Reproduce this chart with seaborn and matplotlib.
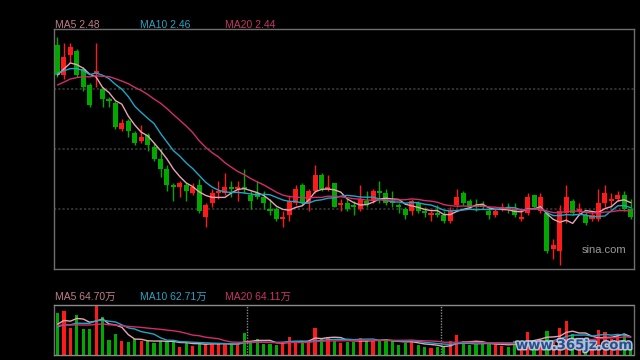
import numpy as np
import pandas as pd
import matplotlib
matplotlib.use("Agg")
import matplotlib.pyplot as plt
import matplotlib.patheffects as pe
import seaborn as sns

# ---- daily k-line data (90 sessions), prices in yuan ----
opens = [3.27, 3.12, 3.22, 3.24, 3.15, 3.07, 3.13, 3.05, 3.00, 2.98,
         2.85, 2.89, 2.83, 2.79, 2.82, 2.76, 2.70, 2.65, 2.57, 2.56,
         2.57, 2.53, 2.57, 2.41, 2.48, 2.53, 2.53, 2.56, 2.55, 2.56,
         2.52, 2.53, 2.51, 2.45, 2.45, 2.40, 2.42, 2.48, 2.57, 2.48,
         2.54, 2.62, 2.55, 2.58, 2.47, 2.48, 2.47, 2.45, 2.49, 2.49,
         2.54, 2.53, 2.49, 2.47, 2.45, 2.44, 2.48, 2.44, 2.42, 2.43,
         2.42, 2.39, 2.47, 2.53, 2.49, 2.47, 2.47, 2.44, 2.42, 2.45,
         2.46, 2.45, 2.40, 2.43, 2.52, 2.44, 2.43, 2.25, 2.24, 2.43,
         2.49, 2.44, 2.42, 2.40, 2.40, 2.48, 2.49, 2.50, 2.52, 2.45]
closes = [3.12, 3.21, 3.26, 3.12, 3.06, 2.97, 3.14, 3.00, 2.99, 2.86,
          2.88, 2.84, 2.78, 2.81, 2.77, 2.70, 2.65, 2.57, 2.56, 2.58,
          2.54, 2.56, 2.44, 2.47, 2.53, 2.54, 2.56, 2.55, 2.56, 2.55,
          2.49, 2.51, 2.48, 2.44, 2.40, 2.41, 2.49, 2.55, 2.48, 2.54,
          2.62, 2.55, 2.56, 2.46, 2.48, 2.45, 2.46, 2.50, 2.47, 2.54,
          2.53, 2.48, 2.48, 2.46, 2.42, 2.49, 2.44, 2.43, 2.43, 2.42,
          2.39, 2.44, 2.51, 2.48, 2.46, 2.46, 2.46, 2.42, 2.44, 2.46,
          2.45, 2.42, 2.41, 2.51, 2.46, 2.51, 2.24, 2.27, 2.44, 2.51,
          2.43, 2.45, 2.38, 2.42, 2.48, 2.53, 2.50, 2.52, 2.45, 2.41]
highs = [3.31, 3.28, 3.28, 3.25, 3.16, 3.08, 3.28, 3.06, 3.01, 2.99,
         2.90, 2.90, 2.84, 2.87, 2.83, 2.78, 2.75, 2.67, 2.58, 2.59,
         2.58, 2.58, 2.60, 2.48, 2.55, 2.59, 2.63, 2.59, 2.59, 2.65,
         2.54, 2.59, 2.54, 2.50, 2.46, 2.44, 2.52, 2.57, 2.58, 2.55,
         2.67, 2.63, 2.62, 2.58, 2.50, 2.50, 2.49, 2.57, 2.54, 2.55,
         2.59, 2.55, 2.54, 2.48, 2.46, 2.50, 2.49, 2.46, 2.44, 2.47,
         2.44, 2.46, 2.55, 2.54, 2.50, 2.50, 2.49, 2.46, 2.45, 2.48,
         2.48, 2.48, 2.45, 2.53, 2.52, 2.53, 2.44, 2.30, 2.47, 2.57,
         2.50, 2.48, 2.44, 2.44, 2.55, 2.57, 2.53, 2.54, 2.54, 2.50]
lows = [3.11, 3.10, 3.18, 3.11, 3.04, 2.96, 3.06, 2.96, 2.96, 2.85,
        2.84, 2.81, 2.77, 2.78, 2.74, 2.69, 2.61, 2.54, 2.49, 2.51,
        2.49, 2.52, 2.43, 2.36, 2.46, 2.50, 2.52, 2.51, 2.49, 2.53,
        2.45, 2.50, 2.45, 2.42, 2.39, 2.36, 2.39, 2.47, 2.47, 2.44,
        2.53, 2.54, 2.54, 2.46, 2.44, 2.44, 2.42, 2.44, 2.46, 2.48,
        2.48, 2.47, 2.46, 2.43, 2.40, 2.42, 2.43, 2.41, 2.39, 2.41,
        2.38, 2.38, 2.46, 2.47, 2.45, 2.44, 2.45, 2.40, 2.41, 2.44,
        2.43, 2.41, 2.39, 2.42, 2.45, 2.43, 2.23, 2.20, 2.17, 2.38,
        2.42, 2.42, 2.37, 2.39, 2.39, 2.46, 2.46, 2.49, 2.44, 2.40]
# volume, 万手
volumes = [152, 159, 97, 144, 93, 93, 180, 136, 53, 76,
           49, 47, 55, 50, 49, 43, 49, 49, 49, 28,
           41, 32, 47, 38, 37, 38, 38, 38, 37, 79,
           47, 55, 38, 38, 35, 43, 65, 47, 43, 47,
           97, 55, 65, 50, 41, 47, 47, 61, 49, 50,
           50, 55, 49, 35, 41, 53, 35, 28, 25, 28,
           28, 49, 71, 49, 35, 37, 41, 41, 35, 32,
           28, 49, 41, 83, 53, 53, 85, 45, 97, 122,
           75, 52, 45, 40, 90, 83, 55, 71, 75, 40]

# sessions before the window, only to warm up the moving averages
prev_closes = [2.92, 2.95, 2.98, 2.96, 3.00, 3.03, 3.05, 3.02, 3.07, 3.12,
               3.10, 3.15, 3.12, 3.16, 3.17, 3.06, 3.11, 3.16, 3.15]
prev_volumes = [95, 120, 130, 105, 90, 140, 100, 110, 95, 115,
                80, 95, 85, 100, 90, 90, 110, 95, 103]

month_starts = [30, 60]          # first session of a new month
grid_levels = [2.45, 2.75, 3.05]
price_labels = ["MA5 2.48", "MA10 2.46", "MA20 2.44"]
vol_labels = ["MA5 64.70万", "MA10 62.71万", "MA20 64.11万"]
ma_windows = [5, 10, 20]

RED = "#ff1a1a"
GREEN = "#00a800"
ma_line_colors = ["#eaa3b6", "#1ea6c8", "#d22d6b"]
ma_text_colors = ["#c27b8e", "#2aa2c2", "#c8336a"]
BORDER = "#6e6e6e"

sns.set_style("dark", {"axes.facecolor": "black", "figure.facecolor": "black"})
plt.rcParams["font.family"] = ["Liberation Sans", "Noto Sans CJK SC", "DejaVu Sans"]

n = len(closes)
x = np.arange(n)
o = np.array(opens)
c = np.array(closes)
colors = np.where(c >= o, RED, GREEN)

all_close = pd.Series(prev_closes + closes)
all_vol = pd.Series(prev_volumes + volumes, dtype=float)
k = len(prev_closes)
price_ma = [all_close.rolling(w).mean().values[k:] for w in ma_windows]
vol_ma = [all_vol.rolling(w).mean().values[k:] for w in ma_windows]

fig = plt.figure(figsize=(6.4, 3.6), dpi=100, facecolor="black")
ax = fig.add_axes([54 / 640, 1 - 269 / 360, 580 / 640, 240 / 360])
axv = fig.add_axes([54 / 640, 1 - 354.5 / 360, 580 / 640, 49.5 / 360])

# ---- price panel ----
ax.vlines(x, lows, highs, colors=colors, linewidth=1.0, zorder=2)
ax.bar(x, np.maximum(np.abs(c - o), 0.002), bottom=np.minimum(o, c),
       width=0.78, color=colors, linewidth=0, zorder=3)
for ma, col in zip(price_ma, ma_line_colors):
    sns.lineplot(x=x, y=ma, ax=ax, color=col, linewidth=1.0, zorder=4)

ax.set_xlim(-0.54, 89.52)
ax.set_ylim(2.15, 3.35)
ax.set_yticks(grid_levels)
ax.set_xticks([])
ax.yaxis.grid(True, color="#3f3f3f", linestyle=(0, (1.4, 1.4)), linewidth=1.1)
ax.xaxis.grid(False)
ax.tick_params(length=0, labelleft=False, labelbottom=False)
ax.set_xlabel("")
ax.set_ylabel("")
for s in ax.spines.values():
    s.set_visible(True)
    s.set_color(BORDER)
    s.set_linewidth(1.0)

# ---- volume panel ----
axv.bar(x, volumes, width=0.5, color=colors, linewidth=0, zorder=2)
for ma, col in zip(vol_ma, ma_line_colors):
    sns.lineplot(x=x, y=ma, ax=axv, color=col, linewidth=1.0, zorder=4)
for m in month_starts:
    axv.axvline(m - 0.5, color="#8a8a8a", linestyle=(0, (1, 1)), linewidth=1.0, zorder=1)
axv.set_xlim(-0.54, 89.52)
axv.set_ylim(0, max(volumes))
axv.set_xticks([])
axv.set_yticks([])
axv.grid(False)
axv.set_xlabel("")
axv.set_ylabel("")
axv.tick_params(length=0, labelleft=False, labelbottom=False)
for name, s in axv.spines.items():
    s.set_visible(True)
    s.set_color("#8a8a8a" if name in ("top", "bottom") else BORDER)
    s.set_linewidth(1.0)
    if name in ("top", "bottom"):
        s.set_linestyle((0, (1, 1)))

# ---- MA captions ----
label_x = [55, 140, 225]
for lx, txt, col in zip(label_x, price_labels, ma_text_colors):
    fig.text(lx / 640, 1 - 28 / 360, txt, color=col, fontsize=7.5, va="baseline")
for lx, txt, col in zip(label_x, vol_labels, ma_text_colors):
    fig.text(lx / 640, 1 - 299.5 / 360, txt, color=col, fontsize=7.5, va="baseline")

fig.text(582 / 640, 1 - 253 / 360, "sina.com", color="#9a9a9a", fontsize=8, va="baseline")
fig.text(516 / 640, 1 - 349 / 360, "www.365jz.com", color="#1d4486", fontsize=9.5,
         fontweight="bold", family="DejaVu Sans", va="baseline", alpha=0.92,
         path_effects=[pe.withStroke(linewidth=2.2, foreground="#bcd0e6")])

fig.savefig("out.png", dpi=100, facecolor="black")
